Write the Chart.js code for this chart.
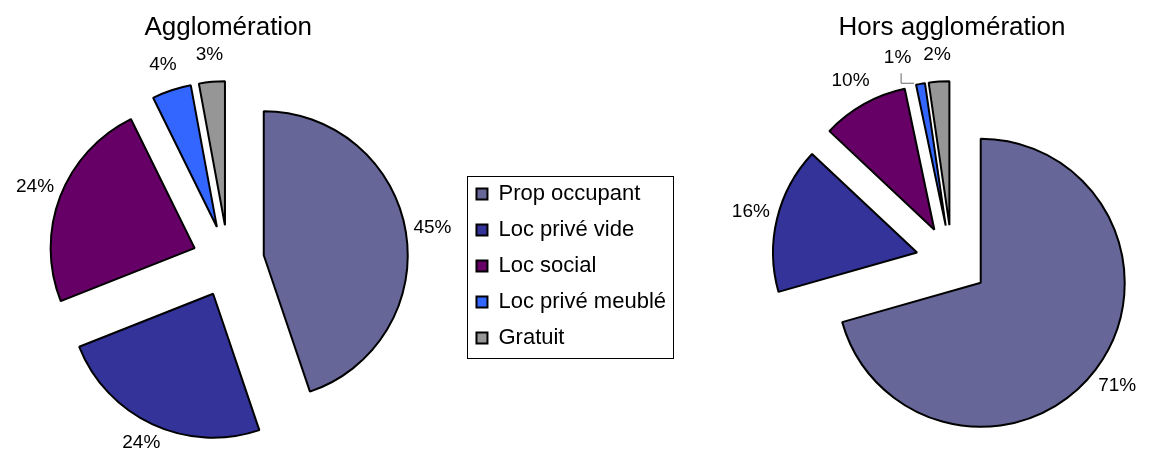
<!DOCTYPE html>
<html>
<head>
<meta charset="utf-8">
<script src="https://cdn.jsdelivr.net/npm/chart.js@4.4.1/dist/chart.umd.min.js"></script>
<style>
  body { margin: 0; background: #fff; }
  #wrap { position: relative; width: 1150px; height: 453px; overflow: hidden; }
  #agglo { position: absolute; left: -6px; top: 0; }
  #hors { position: absolute; left: 700px; top: 0; }
</style>
</head>
<body>
<div id="wrap">
  <canvas id="agglo" width="682" height="453"></canvas>
  <canvas id="hors" width="450" height="453"></canvas>
</div>
<script>
// données (parts en %)
var categories = ['Prop occupant', 'Loc privé vide', 'Loc social', 'Loc privé meublé', 'Gratuit'];
var aggloValues = [44.8, 24.2, 23.7, 4.4, 2.9];
var horsValues = [70.6, 16.4, 9.7, 1.0, 2.3];
var chartTitles = ['Agglomération', 'Hors agglomération'];

var sliceColors = ['#666699', '#333399', '#660066', '#3366ff', '#969696'];

Chart.defaults.font.family = "'Liberation Sans', Arial, sans-serif";
Chart.defaults.color = '#000';

// ecarte chaque part du centre, le long de son angle median
var explodePlugin = {
  id: 'explode',
  afterDatasetUpdate: function(chart, args, opts) {
    var meta = chart.getDatasetMeta(args.index);
    meta.data.forEach(function(arc){
      var mid = (arc.startAngle + arc.endAngle) / 2;
      arc.x += Math.cos(mid) * opts.distance;
      arc.y += Math.sin(mid) * opts.distance;
    });
  }
};

// pourcentages a l'exterieur des parts
var labelsPlugin = {
  id: 'sliceLabels',
  afterDatasetsDraw: function(chart) {
    var ctx = chart.ctx;
    var meta = chart.getDatasetMeta(0);
    var values = chart.data.datasets[0].data;
    var total = values.reduce(function(a, b){ return a + b; }, 0);

    ctx.save();
    ctx.font = "19px 'Liberation Sans', Arial, sans-serif";
    ctx.fillStyle = '#000';
    ctx.textAlign = 'center';
    ctx.textBaseline = 'middle';

    var items = meta.data.map(function(arc, i){
      var mid = (arc.startAngle + arc.endAngle) / 2;
      var r = arc.outerRadius + 27;
      var text = Math.round(values[i] / total * 100) + '%';
      return {
        arc: arc,
        text: text,
        w: ctx.measureText(text).width,
        x: arc.x + Math.cos(mid) * r,
        y: Math.min(arc.y + Math.sin(mid) * r, chart.height - 10),
        moved: false
      };
    });

    // si deux etiquettes se chevauchent, on pousse la premiere a gauche
    for (var i = items.length - 2; i >= 0; i--) {
      var a = items[i], b = items[i + 1];
      if (Math.abs(a.y - b.y) < 18 && a.x < b.x && a.x + a.w / 2 + 12 > b.x - b.w / 2) {
        a.x = b.x - b.w / 2 - 12 - a.w / 2;
        a.moved = true;
      }
    }

    items.forEach(function(it){
      ctx.fillText(it.text, it.x, it.y);
      if (it.moved) {
        var ox = it.arc.x + Math.cos(it.arc.startAngle) * it.arc.outerRadius - 2;
        var oy = it.arc.y + Math.sin(it.arc.startAngle) * it.arc.outerRadius - 2;
        ctx.beginPath();
        ctx.strokeStyle = '#666';
        ctx.lineWidth = 1;
        ctx.moveTo(it.x + 3.5, it.y + 16);
        ctx.lineTo(it.x + 3.5, oy + 0.5);
        ctx.lineTo(ox, oy + 0.5);
        ctx.stroke();
      }
    });
    ctx.restore();
  }
};

// cadre autour de la legende
var legendBoxPlugin = {
  id: 'legendBox',
  afterDraw: function(chart) {
    if (!chart.legend || !chart.options.plugins.legend.display) return;
    var hb = chart.legend.legendHitBoxes;
    if (!hb || !hb.length) return;
    var right = 0;
    hb.forEach(function(h){ right = Math.max(right, h.left + h.width); });
    var first = hb[0], last = hb[hb.length - 1];
    var left = first.left - 9;
    var top = first.top + first.height / 2 - 18;
    var bottom = last.top + last.height / 2 + 20;
    var ctx = chart.ctx;
    ctx.save();
    ctx.strokeStyle = '#000';
    ctx.lineWidth = 1;
    ctx.strokeRect(Math.round(left) + 0.5, Math.round(top) + 0.5, Math.round(right + 7 - left), Math.round(bottom - top));
    ctx.restore();
  }
};

function createPieChart(canvasId, title, values, showLegend, padLeft){
  var element = document.getElementById(canvasId).getContext('2d');

  var chart = new Chart(element, {
    type: 'pie',
    data: {
      labels: categories,
      datasets: [{
        data: values,
        backgroundColor: sliceColors,
        borderColor: '#000',
        borderWidth: 2,
        clip: false
      }]
    },
    options: {
      responsive: false,
      animation: false,
      events: [],
      radius: 144,
      layout: { padding: { left: padLeft } },
      plugins: {
        title: {
          display: true,
          text: title,
          fullSize: false,
          font: { size: 26, weight: 'normal' },
          color: '#000',
          padding: { top: 12, bottom: 26 }
        },
        legend: {
          display: showLegend,
          position: 'right',
          fullSize: false,
          align: 'center',
          // titre vide : descend un peu la liste
          title: { display: true, text: '', padding: 4.5, font: { size: 1, lineHeight: 1 } },
          labels: {
            boxWidth: 11,
            boxHeight: 11,
            padding: 14,
            color: '#000',
            font: { size: 22 }
          }
        },
        tooltip: { enabled: false },
        explode: { distance: 36 }
      }
    },
    plugins: [explodePlugin, labelsPlugin, legendBoxPlugin]
  });
  return chart;
}

function init(){
  createPieChart('agglo', chartTitles[0], aggloValues, true, 0);
  createPieChart('hors', chartTitles[1], horsValues, false, 54);
}

init();
</script>
</body>
</html>
